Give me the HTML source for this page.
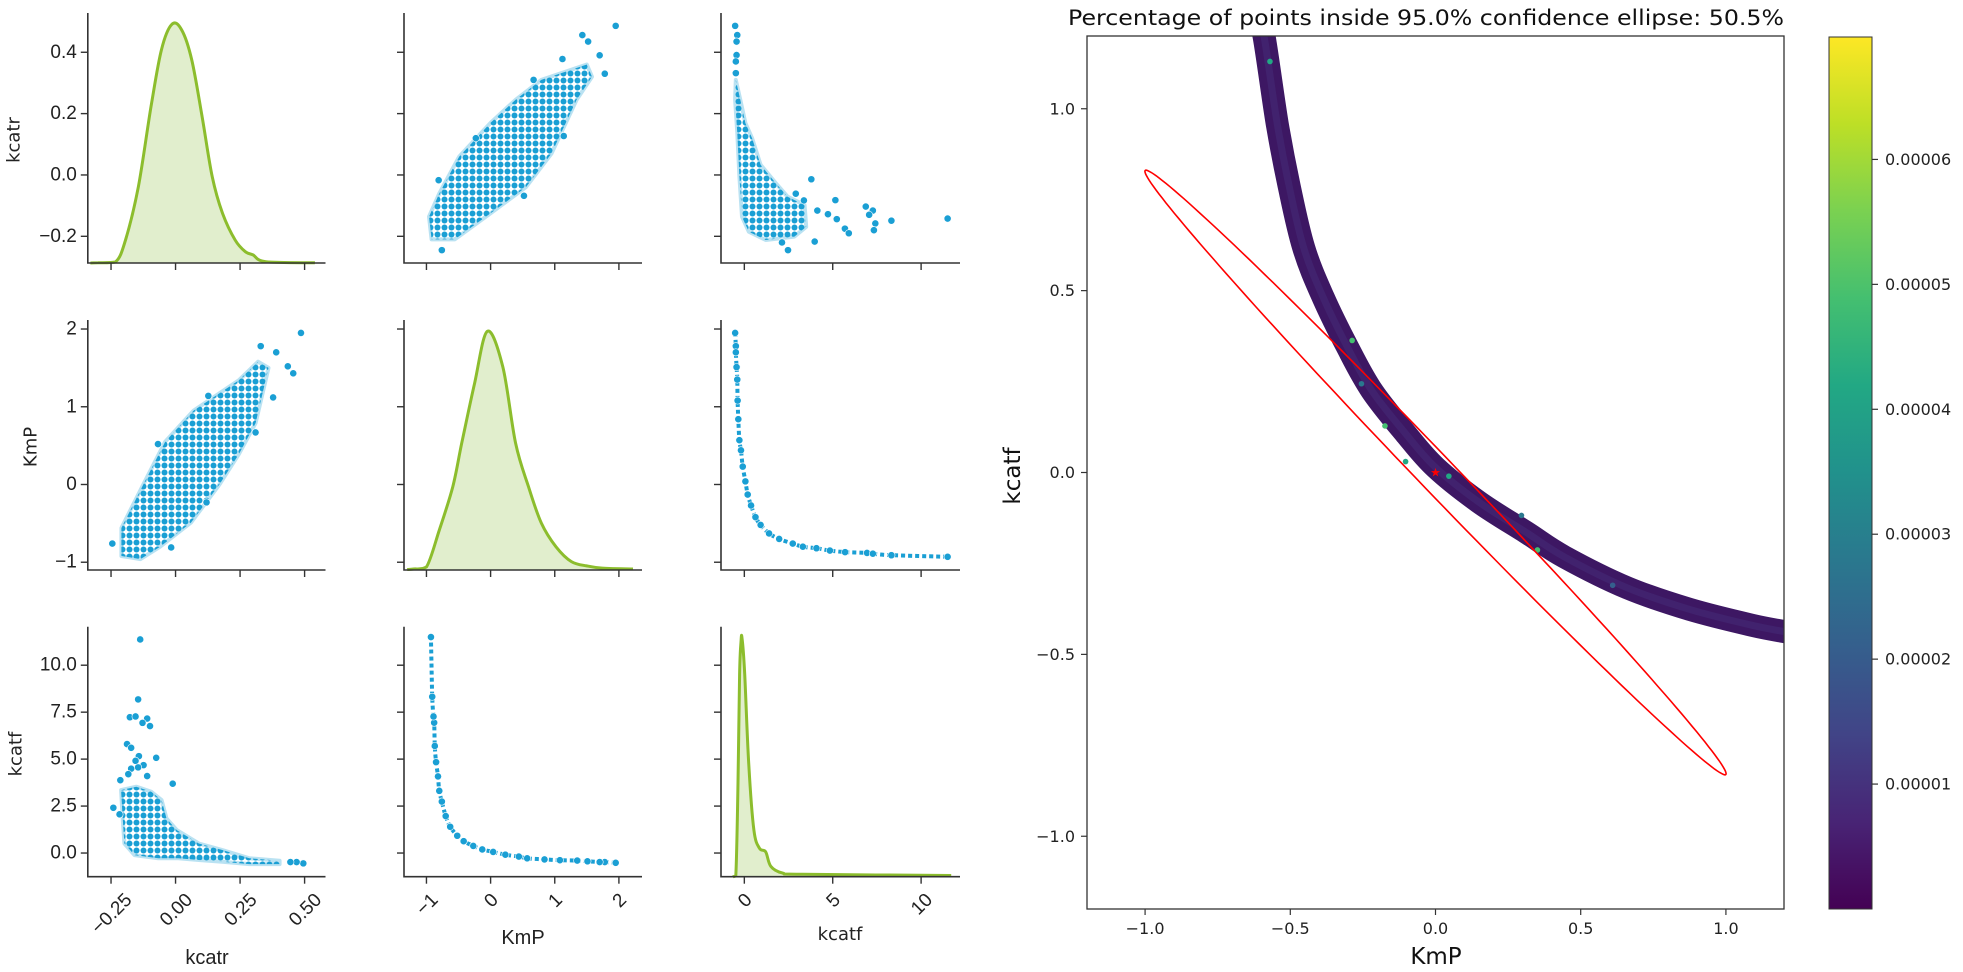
<!DOCTYPE html>
<html><head><meta charset="utf-8"><title>Pairplot and confidence ellipse</title>
<style>
html,body{margin:0;padding:0;background:#fff;}
svg{display:block;}
.tk{font-family:"Liberation Sans",sans-serif;font-size:19px;fill:#222;}
.rk{font-family:"DejaVu Sans","Liberation Sans",sans-serif;font-size:16px;fill:#222;}
</style></head>
<body>
<svg id="fig" width="1963" height="972" viewBox="0 0 1963 972" xmlns="http://www.w3.org/2000/svg">
<defs>
<pattern id="dots" width="7" height="7" patternUnits="userSpaceOnUse"><circle cx="3.5" cy="3.5" r="3" fill="#1a9fd4"/></pattern>
<linearGradient id="viridis" x1="0" y1="1" x2="0" y2="0">
<stop offset="0" stop-color="#440154"/><stop offset="0.1" stop-color="#482475"/><stop offset="0.2" stop-color="#414487"/><stop offset="0.3" stop-color="#355f8d"/><stop offset="0.4" stop-color="#2a788e"/><stop offset="0.5" stop-color="#21918c"/><stop offset="0.6" stop-color="#22a884"/><stop offset="0.7" stop-color="#44bf70"/><stop offset="0.8" stop-color="#7ad151"/><stop offset="0.9" stop-color="#bddf26"/><stop offset="1" stop-color="#fde725"/>
</linearGradient>
<clipPath id="rclip"><rect x="1087" y="36" width="697" height="873"/></clipPath>
</defs>
<rect x="0" y="0" width="1963" height="972" fill="#fff"/>
<g id="pair"></g>
<g id="right"></g>
<text x="14" y="140" transform="rotate(-90 14 140)" text-anchor="middle" dominant-baseline="central" font-family="DejaVu Sans, sans-serif" font-size="18" fill="#222">kcatr</text>
<text x="31" y="447" transform="rotate(-90 31 447)" text-anchor="middle" dominant-baseline="central" font-family="DejaVu Sans, sans-serif" font-size="18" fill="#222">KmP</text>
<text x="16" y="754" transform="rotate(-90 16 754)" text-anchor="middle" dominant-baseline="central" font-family="DejaVu Sans, sans-serif" font-size="18" fill="#222">kcatf</text>
<text x="207" y="964" text-anchor="middle" font-family="Liberation Sans, sans-serif" font-size="20" fill="#222">kcatr</text>
<text x="523" y="944" text-anchor="middle" font-family="Liberation Sans, sans-serif" font-size="20" fill="#222">KmP</text>
<text x="840" y="940" text-anchor="middle" font-family="DejaVu Sans, sans-serif" font-size="18" fill="#222">kcatf</text>
<text x="1426" y="25" text-anchor="middle" font-family="DejaVu Sans, sans-serif" font-size="21" fill="#111" textLength="716" lengthAdjust="spacingAndGlyphs">Percentage of points inside 95.0% confidence ellipse: 50.5%</text>
<text x="1436" y="964" text-anchor="middle" font-family="DejaVu Sans, sans-serif" font-size="23" fill="#111">KmP</text>
<text x="1013" y="476" transform="rotate(-90 1013 476)" text-anchor="middle" dominant-baseline="central" font-family="DejaVu Sans, sans-serif" font-size="23" fill="#111">kcatf</text>
</svg>
<script>
// ---------- data ----------
const varNames = ["kcatr","KmP","kcatf"];
const xLims = [[-0.34,0.581],[-1.35,2.36],[-1.32,12.2]];
const yLims = [[-0.287,0.528],[-1.1,2.116],[-1.26,12.05]];
const xTickVals = [[-0.25,0,0.25,0.5],[-1,0,1,2],[0,5,10]];
const xTickLabels = [["−0.25","0.00","0.25","0.50"],["−1","0","1","2"],["0","5","10"]];
const yTickVals = [[-0.2,0,0.2,0.4],[-1,0,1,2],[0,2.5,5,7.5,10]];
const yTickLabels = [["−0.2","0.0","0.2","0.4"],["−1","0","1","2"],["0.0","2.5","5.0","7.5","10.0"]];

// KDE curves (x, relative density)
const kdeKcatrX = [-0.33,-0.30,-0.233,-0.194,-0.144,-0.095,-0.055,-0.014,0.024,0.063,0.103,0.142,0.182,0.231,0.271,0.30,0.35,0.54];
const kdeKcatrH = [0,0.001,0.004,0.096,0.32,0.655,0.892,1,0.976,0.85,0.613,0.362,0.208,0.096,0.047,0.034,0.005,0.001];
const kdeKmpX = [-1.3,-1.2,-1.0,-0.8,-0.59,-0.45,-0.25,-0.05,0.19,0.39,0.59,0.79,1.02,1.26,1.5,1.74,2.22];
const kdeKmpH = [0.002,0.004,0.013,0.167,0.349,0.531,0.782,1,0.851,0.531,0.349,0.197,0.097,0.035,0.017,0.008,0.004];
const kdeKcatfX = [-0.65,-0.48,-0.36,-0.27,-0.19,-0.13,0.02,0.25,0.54,0.86,1.21,1.5,2.17,3.31,11.7];
const kdeKcatfH = [0,0.004,0.393,0.849,0.983,1,0.849,0.469,0.195,0.119,0.104,0.043,0.015,0.01,0.005];

// KmP (x) vs kcatr (y): dense cloud outline + outliers
const cloudKmpKcatr_KmP   = [-0.92,-0.56,0,0.55,0.95,1.34,1.58,1.5,0.79,0.39,0,-0.49,-0.8,-0.96];
const cloudKmpKcatr_kcatr = [-0.21,-0.21,-0.125,-0.04,0.07,0.245,0.32,0.36,0.31,0.245,0.17,0.06,-0.06,-0.136];
const outKmpKcatr_KmP   = [1.95,1.43,1.52,1.70,1.78,0.67,1.12,-0.81,0.52,-0.76,-0.23,1.14];
const outKmpKcatr_kcatr = [0.486,0.456,0.435,0.39,0.33,0.31,0.378,-0.017,-0.068,-0.245,0.12,0.127];

// kcatf (x) vs kcatr (y)
const cloudKcatfKcatr_kcatf = [-0.48,-0.23,0.06,0.44,0.92,1.78,2.45,3.41,3.50,2.83,1.21,0.25,-0.13,-0.28,-0.40,-0.52];
const cloudKcatfKcatr_kcatr = [0.31,0.245,0.169,0.12,0.033,-0.027,-0.071,-0.098,-0.169,-0.201,-0.212,-0.185,-0.136,-0.005,0.136,0.245];
const outKcatfKcatr_kcatf = [-0.52,-0.40,-0.44,-0.44,-0.48,-0.48,3.79,5.15,6.87,7.27,8.32,11.5,7.41,7.33,5.69,5.91,7.06,5.23,4.73,4.13,3.98,2.47,2.13,2.91,3.37];
const outKcatfKcatr_kcatr = [0.486,0.456,0.435,0.391,0.37,0.332,-0.014,-0.082,-0.103,-0.116,-0.149,-0.142,-0.158,-0.18,-0.175,-0.19,-0.13,-0.144,-0.128,-0.116,-0.217,-0.245,-0.22,-0.061,-0.083];

// kcatr (x) vs kcatf (y)
const cloudKcatrKcatf_kcatr = [-0.211,-0.152,-0.094,-0.054,-0.035,0.005,0.09,0.181,0.286,0.403,0.403,0.286,0.181,0.09,0.011,-0.067,-0.159,-0.198,-0.205];
const cloudKcatrKcatf_kcatf = [3.35,3.53,3.26,2.82,1.84,1.22,0.51,0.16,-0.28,-0.41,-0.59,-0.59,-0.46,-0.37,-0.28,-0.28,-0.11,0.51,1.93];
const outKcatrKcatf_kcatr = [-0.137,-0.145,-0.177,-0.155,-0.11,-0.128,-0.099,-0.188,-0.172,-0.142,-0.075,-0.155,-0.124,-0.145,-0.172,-0.183,-0.11,-0.214,-0.011,-0.241,-0.217,0.495,0.469,0.445];
const outKcatrKcatf_kcatf = [11.37,8.18,7.23,7.27,7.16,6.93,6.76,5.8,5.6,5.16,5.07,4.91,4.68,4.56,4.49,4.2,4.1,3.88,3.69,2.41,2.06,-0.55,-0.48,-0.48];

// KmP vs kcatf curve points
const curveKcatf = [-0.52,-0.48,-0.48,-0.44,-0.40,-0.38,-0.34,-0.28,-0.19,-0.09,0.06,0.19,0.38,0.63,0.92,1.40,1.97,2.74,3.31,4.08,4.84,5.70,6.94,7.27,8.32,11.5];
const curveKmP   = [1.95,1.78,1.70,1.51,1.35,1.08,0.84,0.57,0.44,0.23,0.04,-0.13,-0.27,-0.42,-0.52,-0.63,-0.70,-0.76,-0.80,-0.82,-0.85,-0.87,-0.88,-0.89,-0.91,-0.93];

// right plot: band centreline (KmP, kcatf)
const bandKmP   = [-0.62,-0.59,-0.545,-0.504,-0.454,-0.387,-0.304,-0.22,-0.103,0,0.147,0.313,0.444,0.66,0.874,1.09,1.22];
const bandKcatf = [1.3,1.197,0.959,0.788,0.618,0.482,0.346,0.226,0.107,0.014,-0.08,-0.165,-0.232,-0.317,-0.376,-0.42,-0.44];
const hiKmP   = [-0.287,-0.174,0.046,-0.103,0.351,-0.255,0.296,-0.57,0.61];
const hiKcatf = [0.363,0.128,-0.01,0.03,-0.213,0.244,-0.118,1.13,-0.31];
const hiDens  = [0.00005,0.00005,0.00004,0.00004,0.00005,0.00003,0.00003,0.00004,0.00002];
const ellCenter = [0,0];
const ellEnd = [1.0,-0.83];
const ellMinor = 0.055;
const rXTicks = [-1.0,-0.5,0.0,0.5,1.0];
const rXTickLabels = ["−1.0","−0.5","0.0","0.5","1.0"];
const rYTicks = [1.0,0.5,0.0,-0.5,-1.0];
const rYTickLabels = ["1.0","0.5","0.0","−0.5","−1.0"];
const cbTicks = [0.00001,0.00002,0.00003,0.00004,0.00005,0.00006];
const cbTickLabels = ["0.00001","0.00002","0.00003","0.00004","0.00005","0.00006"];
const cbLim = [0,0.0000698];

// ---------- layout ----------
const NS = "http://www.w3.org/2000/svg";
const colPx = [[87.8,325.5],[404,642],[721,960]];
const rowPx = [[13,263],[320,570],[626.7,876.7]];
function mk(tag, attrs, parent){ const e=document.createElementNS(NS,tag); for(const k in attrs) e.setAttribute(k,attrs[k]); parent.appendChild(e); return e; }
function sx(c,v){ const [lo,hi]=xLims[c]; return colPx[c][0]+(v-lo)/(hi-lo)*(colPx[c][1]-colPx[c][0]); }
function sy(r,v){ const [lo,hi]=yLims[r]; return rowPx[r][1]-(v-lo)/(hi-lo)*(rowPx[r][1]-rowPx[r][0]); }
const pair = document.getElementById("pair");
const BLUE="#1a9fd4", GREEN="#8cbd2d";

// Catmull-Rom smooth path through pixel points (optional max-y clamp)
function smooth(P, maxY){
  const cl=y=>maxY===undefined?y:Math.min(y,maxY);
  let d="M"+P[0][0].toFixed(1)+","+P[0][1].toFixed(1);
  for(let i=0;i<P.length-1;i++){
    const p0=P[Math.max(0,i-1)],p1=P[i],p2=P[i+1],p3=P[Math.min(P.length-1,i+2)];
    const c1=[p1[0]+(p2[0]-p0[0])/6,cl(p1[1]+(p2[1]-p0[1])/6)], c2=[p2[0]-(p3[0]-p1[0])/6,cl(p2[1]-(p3[1]-p1[1])/6)];
    d+=` C${c1[0].toFixed(1)},${c1[1].toFixed(1)} ${c2[0].toFixed(1)},${c2[1].toFixed(1)} ${p2[0].toFixed(1)},${p2[1].toFixed(1)}`;
  }
  return d;
}
function polyPts(xs,ys,c,r){ return xs.map((v,i)=>sx(c,v).toFixed(1)+","+sy(r,ys[i]).toFixed(1)).join(" "); }
function cloud(c,r,xs,ys,name){
  const p=mk("polygon",{points:polyPts(xs,ys,c,r),fill:"url(#dots)",stroke:BLUE,"stroke-width":"4","stroke-linejoin":"round","stroke-opacity":"0.3"},pair);
  
  
}
function dots(c,r,xs,ys,name){
  const g=mk("g",{},pair);
  
  
  xs.forEach((v,i)=>{
    const d=mk("circle",{cx:sx(c,v),cy:sy(r,ys[i]),r:"3.6",fill:BLUE,stroke:"#fff","stroke-width":"0.6"},g);
    
    
  });
}
function curve(c,r,xs,ys,name){
  const P=xs.map((v,i)=>[sx(c,v),sy(r,ys[i])]);
  const p=mk("path",{d:smooth(P),fill:"none",stroke:BLUE,"stroke-width":"4","stroke-dasharray":"4 3"},pair);
  
  
  dots(c,r,xs,ys,name+"-points");
}
function kde(i,xs,hs,name){
  const base=rowPx[i][1], top=rowPx[i][0]+ (rowPx[i][1]-rowPx[i][0])*0.045, H=base-top;
  const P=xs.map((v,k)=>[sx(i,v),base-hs[k]*H]);
  const d=smooth(P, base);
  const f=mk("path",{d:d+` L${P[P.length-1][0]},${base} L${P[0][0]},${base} Z`,fill:"#e1eecd"},pair);
  
  
  const l=mk("path",{d:d,fill:"none",stroke:GREEN,"stroke-width":"3","stroke-linejoin":"round"},pair);
  
  
}

// marks
kde(0,kdeKcatrX,kdeKcatrH,"kde-kcatr");
kde(1,kdeKmpX,kdeKmpH,"kde-kmp");
kde(2,kdeKcatfX,kdeKcatfH,"kde-kcatf");
cloud(1,0,cloudKmpKcatr_KmP,cloudKmpKcatr_kcatr,"scatter-kmp-kcatr-cloud");
dots(1,0,outKmpKcatr_KmP,outKmpKcatr_kcatr,"scatter-kmp-kcatr-outliers");
cloud(0,1,cloudKmpKcatr_kcatr,cloudKmpKcatr_KmP,"scatter-kcatr-kmp-cloud");
dots(0,1,outKmpKcatr_kcatr,outKmpKcatr_KmP,"scatter-kcatr-kmp-outliers");
cloud(2,0,cloudKcatfKcatr_kcatf,cloudKcatfKcatr_kcatr,"scatter-kcatf-kcatr-cloud");
dots(2,0,outKcatfKcatr_kcatf,outKcatfKcatr_kcatr,"scatter-kcatf-kcatr-outliers");
cloud(0,2,cloudKcatrKcatf_kcatr,cloudKcatrKcatf_kcatf,"scatter-kcatr-kcatf-cloud");
dots(0,2,outKcatrKcatf_kcatr,outKcatrKcatf_kcatf,"scatter-kcatr-kcatf-outliers");
curve(2,1,curveKcatf,curveKmP,"scatter-kcatf-kmp");
curve(1,2,curveKmP,curveKcatf,"scatter-kmp-kcatf");

// axes
for(let r=0;r<3;r++){
  for(let c=0;c<3;c++){
    const [x0,x1]=colPx[c], [y0,y1]=rowPx[r];
    const ax=mk("path",{d:`M${x0},${y0} V${y1} H${x1}`,fill:"none",stroke:"#333","stroke-width":"1.6"},pair);
    
    
    xTickVals[c].forEach(v=>{
      const t=mk("line",{x1:sx(c,v),x2:sx(c,v),y1:y1,y2:y1+7,stroke:"#333","stroke-width":"1.4"},pair);
      
      
    });
    yTickVals[r].forEach(v=>{
      const t=mk("line",{x1:x0-7,x2:x0,y1:sy(r,v),y2:sy(r,v),stroke:"#333","stroke-width":"1.4"},pair);
      
      
    });
  }
  yTickVals[r].forEach((v,i)=>{
    const t=mk("text",{x:colPx[0][0]-11,y:sy(r,v),"text-anchor":"end","dominant-baseline":"central",class:"tk"},pair);
    t.textContent=yTickLabels[r][i];
    
    
  });
}
for(let c=0;c<3;c++){
  xTickVals[c].forEach((v,i)=>{
    const t=mk("text",{x:0,y:0,"text-anchor":"middle","dominant-baseline":"central",class:"tk"},pair);
    t.textContent=xTickLabels[c][i];
    
    
    const L=t.getComputedTextLength();
    const cx=sx(c,v)+1, cy=897+L*0.354;
    t.setAttribute("x",cx); t.setAttribute("y",cy);
    t.setAttribute("transform",`rotate(-45 ${cx} ${cy})`);
  });
}

// ---------- right plot ----------
const right=document.getElementById("right");
const RX=v=>1087+(v+1.2)/2.4*697;
const RY=v=>36+(1.2-v)/2.4*873;
const inner=mk("g",{"clip-path":"url(#rclip)"},right);


const bandP=bandKmP.map((v,i)=>[RX(v),RY(bandKcatf[i])]);
const b1=mk("path",{d:smooth(bandP),fill:"none",stroke:"#3d1763","stroke-width":"23","stroke-linejoin":"round","stroke-linecap":"round"},inner);


const b2=mk("path",{d:smooth(bandP),fill:"none",stroke:"#46307c","stroke-width":"7","stroke-opacity":"0.45"},inner);


const vir=["#440154","#482475","#414487","#355f8d","#2a788e","#21918c","#22a884","#44bf70","#7ad151","#bddf26","#fde725"];
function vcol(v){ const t=Math.max(0,Math.min(1,(v-cbLim[0])/(cbLim[1]-cbLim[0]))); return vir[Math.round(t*10)]; }
hiKmP.forEach((v,i)=>{
  const d=mk("circle",{cx:RX(v),cy:RY(hiKcatf[i]),r:"2.8",fill:vcol(hiDens[i])},inner);
  
  
});
// ellipse
(function(){
  const [cx,cy]=ellCenter, ux=ellEnd[0]-cx, uy=ellEnd[1]-cy, a=Math.hypot(ux,uy);
  const ex=ux/a, ey=uy/a, px=-ey, py=ex;
  const pts=[];
  for(let k=0;k<=180;k++){ const t=k/180*2*Math.PI;
    const X=cx+a*Math.cos(t)*ex+ellMinor*Math.sin(t)*px, Y=cy+a*Math.cos(t)*ey+ellMinor*Math.sin(t)*py;
    pts.push(RX(X).toFixed(1)+","+RY(Y).toFixed(1)); }
  const e=mk("polygon",{points:pts.join(" "),fill:"none",stroke:"#ff0000","stroke-width":"1.6"},inner);
  
  
  const s=mk("text",{x:RX(cx),y:RY(cy),"text-anchor":"middle","dominant-baseline":"central","font-size":"12",fill:"#ff0000","font-family":"DejaVu Sans, sans-serif"},inner);
  s.textContent="★";
  
  
})();
const frame=mk("rect",{x:1087,y:36,width:697,height:873,fill:"none",stroke:"#333","stroke-width":"1.3"},right);


rXTicks.forEach((v,i)=>{
  const t=mk("line",{x1:RX(v),x2:RX(v),y1:909,y2:915,stroke:"#333","stroke-width":"1.2"},right);
  
  
  const l=mk("text",{x:RX(v),y:934,"text-anchor":"middle",class:"rk"},right);
  l.textContent=rXTickLabels[i];
  
  
});
rYTicks.forEach((v,i)=>{
  const t=mk("line",{x1:1081,x2:1087,y1:RY(v),y2:RY(v),stroke:"#333","stroke-width":"1.2"},right);
  
  
  const l=mk("text",{x:1075,y:RY(v),"text-anchor":"end","dominant-baseline":"central",class:"rk"},right);
  l.textContent=rYTickLabels[i];
  
  
});
// colorbar
const CB={x:1829,y0:37,y1:909,w:43};
const cb=mk("rect",{x:CB.x,y:CB.y0,width:CB.w,height:CB.y1-CB.y0,fill:"url(#viridis)",stroke:"#333","stroke-width":"1"},right);


const CY=v=>CB.y1-(v-cbLim[0])/(cbLim[1]-cbLim[0])*(CB.y1-CB.y0);
cbTicks.forEach((v,i)=>{
  const t=mk("line",{x1:CB.x+CB.w,x2:CB.x+CB.w+6,y1:CY(v),y2:CY(v),stroke:"#333","stroke-width":"1.2"},right);
  
  
  const l=mk("text",{x:CB.x+CB.w+13,y:CY(v),"dominant-baseline":"central",class:"rk"},right);
  l.textContent=cbTickLabels[i];
  
  
});
</script>
</body></html>
